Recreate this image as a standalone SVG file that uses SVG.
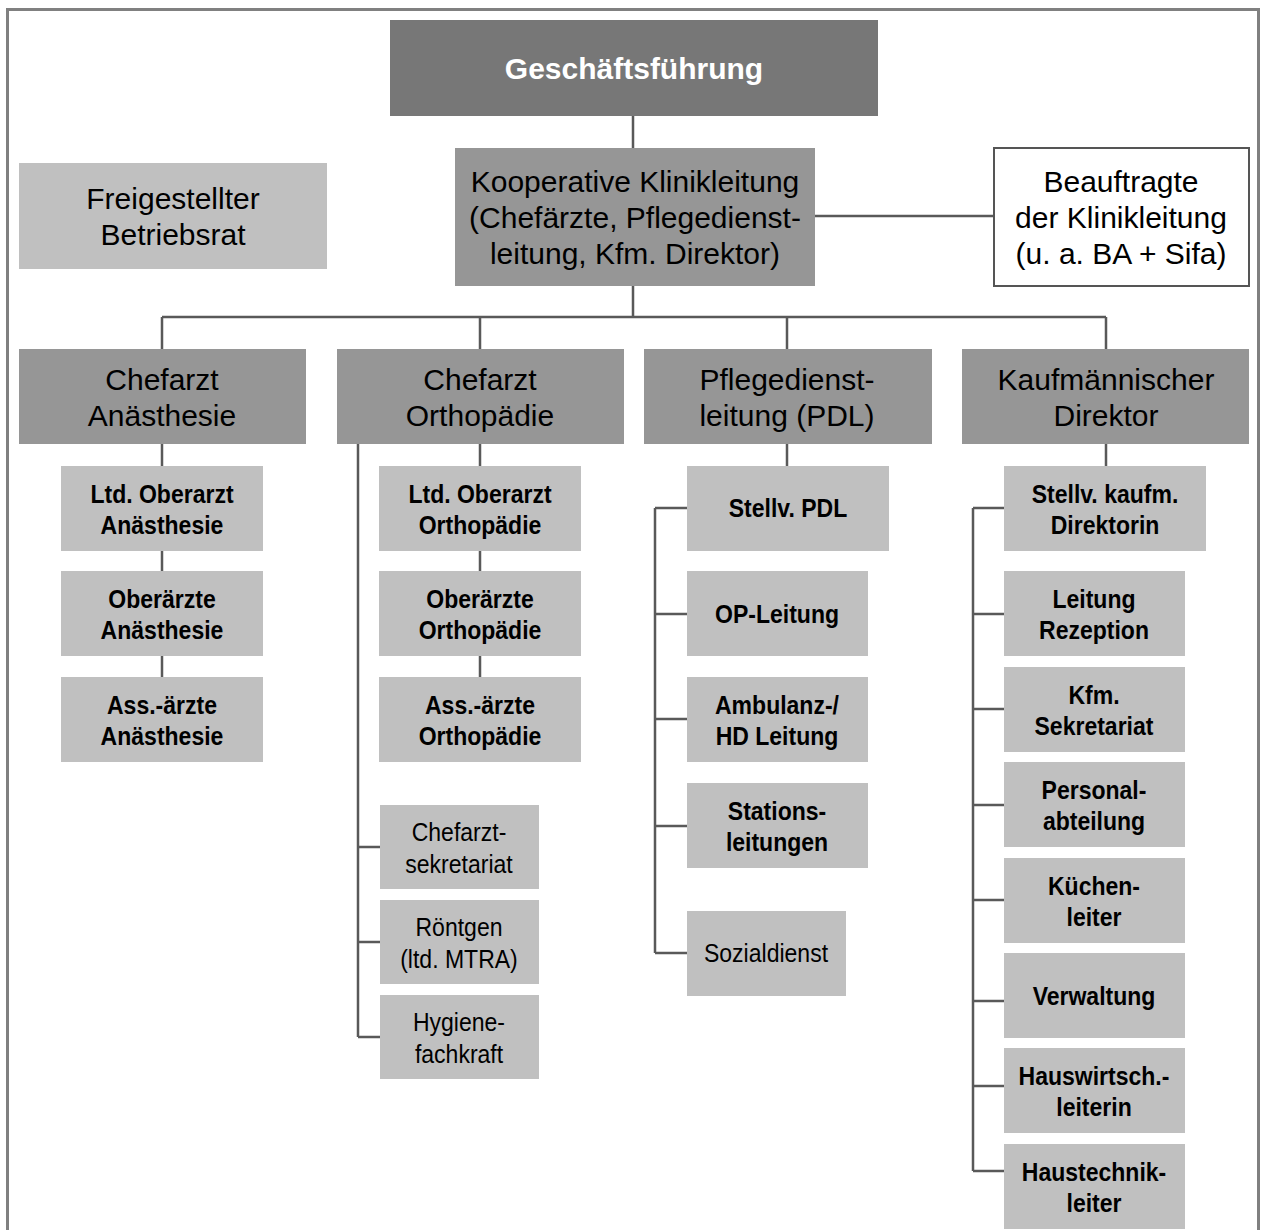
<svg xmlns="http://www.w3.org/2000/svg" width="1264" height="1230" viewBox="0 0 1264 1230">
<style>
.frame{fill:none;stroke:#808080;stroke-width:3}
.gf{fill:#777777}
.l1{fill:#969696}
.l3{fill:#c0c0c0}
.bx{fill:#ffffff;stroke:#555555;stroke-width:2}
.cn{fill:none;stroke:#595959;stroke-width:2.5}
text{text-anchor:middle;fill:#000000}
.tw{font-family:"Liberation Sans",Arial,sans-serif;font-size:30px;font-weight:bold;fill:#ffffff}
.tr{font-family:"Liberation Sans",Arial,sans-serif;font-size:30px}
.tb{font-family:"Liberation Sans",Arial,sans-serif;font-size:26px;font-weight:bold}
.tn{font-family:"Liberation Sans",Arial,sans-serif;font-size:26px}
</style>
<rect class="frame" x="7.5" y="9.5" width="1251" height="1240"/>
<g id="connectors">
<path class="cn" d="M633,116V148 M815,216H994 M633,286V317 M162,317H1106 M162,317V349 M480,317V349 M787,317V349 M1106,317V349"/>
<path class="cn" d="M162,444V466 M162,551V571 M162,656V677"/>
<path class="cn" d="M480,444V466 M480,551V571 M480,656V677"/>
<path class="cn" d="M358,444V1037 M358,847H380 M358,942H380 M358,1037H380"/>
<path class="cn" d="M787,444V466 M655,508V953 M655,508H687 M655,614H687 M655,719H687 M655,826H687 M655,953H687"/>
<path class="cn" d="M1106,444V466 M973,508V1171 M973,508H1004 M973,614H1004 M973,709H1004 M973,805H1004 M973,900H1004 M973,1001H1004 M973,1086H1004 M973,1171H1004"/>
</g>
<g id="geschaeftsfuehrung"><rect class="gf" x="390" y="20" width="488" height="96"/><text class="tw" x="634" y="79">Geschäftsführung</text></g>
<g id="klinikleitung"><rect class="l1" x="455" y="148" width="360" height="138"/><text class="tr" x="635" y="192">Kooperative Klinikleitung</text><text class="tr" x="635" y="228">(Chefärzte, Pflegedienst-</text><text class="tr" x="635" y="264">leitung, Kfm. Direktor)</text></g>
<g id="beauftragte"><rect class="bx" x="994" y="148" width="255" height="138"/><text class="tr" x="1121" y="192">Beauftragte</text><text class="tr" x="1121" y="228">der Klinikleitung</text><text class="tr" x="1121" y="264">(u. a. BA + Sifa)</text></g>
<g id="betriebsrat"><rect class="l3" x="19" y="163" width="308" height="106"/><text class="tr" x="173" y="209">Freigestellter</text><text class="tr" x="173" y="245">Betriebsrat</text></g>
<g id="ca-anaesthesie"><rect class="l1" x="19" y="349" width="287" height="95"/><text class="tr" x="162" y="390">Chefarzt</text><text class="tr" x="162" y="426">Anästhesie</text></g>
<g id="ca-orthopaedie"><rect class="l1" x="337" y="349" width="287" height="95"/><text class="tr" x="480" y="390">Chefarzt</text><text class="tr" x="480" y="426">Orthopädie</text></g>
<g id="pdl"><rect class="l1" x="644" y="349" width="288" height="95"/><text class="tr" x="787" y="390">Pflegedienst-</text><text class="tr" x="787" y="426">leitung (PDL)</text></g>
<g id="kaufm-direktor"><rect class="l1" x="962" y="349" width="287" height="95"/><text class="tr" x="1106" y="390">Kaufmännischer</text><text class="tr" x="1106" y="426">Direktor</text></g>
<g id="ltd-oa-an"><rect class="l3" x="61" y="466" width="202" height="85"/><text class="tb" transform="translate(162,503) scale(0.885,1)">Ltd. Oberarzt</text><text class="tb" transform="translate(162,534) scale(0.885,1)">Anästhesie</text></g>
<g id="oa-an"><rect class="l3" x="61" y="571" width="202" height="85"/><text class="tb" transform="translate(162,608) scale(0.885,1)">Oberärzte</text><text class="tb" transform="translate(162,639) scale(0.885,1)">Anästhesie</text></g>
<g id="aa-an"><rect class="l3" x="61" y="677" width="202" height="85"/><text class="tb" transform="translate(162,714) scale(0.885,1)">Ass.-ärzte</text><text class="tb" transform="translate(162,745) scale(0.885,1)">Anästhesie</text></g>
<g id="ltd-oa-or"><rect class="l3" x="379" y="466" width="202" height="85"/><text class="tb" transform="translate(480,503) scale(0.885,1)">Ltd. Oberarzt</text><text class="tb" transform="translate(480,534) scale(0.885,1)">Orthopädie</text></g>
<g id="oa-or"><rect class="l3" x="379" y="571" width="202" height="85"/><text class="tb" transform="translate(480,608) scale(0.885,1)">Oberärzte</text><text class="tb" transform="translate(480,639) scale(0.885,1)">Orthopädie</text></g>
<g id="aa-or"><rect class="l3" x="379" y="677" width="202" height="85"/><text class="tb" transform="translate(480,714) scale(0.885,1)">Ass.-ärzte</text><text class="tb" transform="translate(480,745) scale(0.885,1)">Orthopädie</text></g>
<g id="ca-sekretariat"><rect class="l3" x="380" y="805" width="159" height="84"/><text class="tn" transform="translate(459,841) scale(0.885,1)">Chefarzt-</text><text class="tn" transform="translate(459,873) scale(0.885,1)">sekretariat</text></g>
<g id="roentgen"><rect class="l3" x="380" y="900" width="159" height="84"/><text class="tn" transform="translate(459,936) scale(0.885,1)">Röntgen</text><text class="tn" transform="translate(459,968) scale(0.885,1)">(ltd. MTRA)</text></g>
<g id="hygiene"><rect class="l3" x="380" y="995" width="159" height="84"/><text class="tn" transform="translate(459,1031) scale(0.885,1)">Hygiene-</text><text class="tn" transform="translate(459,1063) scale(0.885,1)">fachkraft</text></g>
<g id="stellv-pdl"><rect class="l3" x="687" y="466" width="202" height="85"/><text class="tb" transform="translate(788,517) scale(0.885,1)">Stellv. PDL</text></g>
<g id="op-leitung"><rect class="l3" x="687" y="571" width="181" height="85"/><text class="tb" transform="translate(777,623) scale(0.885,1)">OP-Leitung</text></g>
<g id="ambulanz"><rect class="l3" x="687" y="677" width="181" height="85"/><text class="tb" transform="translate(777,714) scale(0.885,1)">Ambulanz-/</text><text class="tb" transform="translate(777,745) scale(0.885,1)">HD Leitung</text></g>
<g id="stationsleitungen"><rect class="l3" x="687" y="783" width="181" height="85"/><text class="tb" transform="translate(777,820) scale(0.885,1)">Stations-</text><text class="tb" transform="translate(777,851) scale(0.885,1)">leitungen</text></g>
<g id="sozialdienst"><rect class="l3" x="687" y="911" width="159" height="85"/><text class="tn" transform="translate(766,962) scale(0.885,1)">Sozialdienst</text></g>
<g id="stellv-kaufm"><rect class="l3" x="1004" y="466" width="202" height="85"/><text class="tb" transform="translate(1105,503) scale(0.885,1)">Stellv. kaufm.</text><text class="tb" transform="translate(1105,534) scale(0.885,1)">Direktorin</text></g>
<g id="rezeption"><rect class="l3" x="1004" y="571" width="181" height="85"/><text class="tb" transform="translate(1094,608) scale(0.885,1)">Leitung</text><text class="tb" transform="translate(1094,639) scale(0.885,1)">Rezeption</text></g>
<g id="kfm-sekretariat"><rect class="l3" x="1004" y="667" width="181" height="85"/><text class="tb" transform="translate(1094,704) scale(0.885,1)">Kfm.</text><text class="tb" transform="translate(1094,735) scale(0.885,1)">Sekretariat</text></g>
<g id="personal"><rect class="l3" x="1004" y="762" width="181" height="85"/><text class="tb" transform="translate(1094,799) scale(0.885,1)">Personal-</text><text class="tb" transform="translate(1094,830) scale(0.885,1)">abteilung</text></g>
<g id="kueche"><rect class="l3" x="1004" y="858" width="181" height="85"/><text class="tb" transform="translate(1094,895) scale(0.885,1)">Küchen-</text><text class="tb" transform="translate(1094,926) scale(0.885,1)">leiter</text></g>
<g id="verwaltung"><rect class="l3" x="1004" y="953" width="181" height="85"/><text class="tb" transform="translate(1094,1005) scale(0.885,1)">Verwaltung</text></g>
<g id="hauswirtschaft"><rect class="l3" x="1004" y="1048" width="181" height="85"/><text class="tb" transform="translate(1094,1085) scale(0.885,1)">Hauswirtsch.-</text><text class="tb" transform="translate(1094,1116) scale(0.885,1)">leiterin</text></g>
<g id="haustechnik"><rect class="l3" x="1004" y="1144" width="181" height="85"/><text class="tb" transform="translate(1094,1181) scale(0.885,1)">Haustechnik-</text><text class="tb" transform="translate(1094,1212) scale(0.885,1)">leiter</text></g>
</svg>
